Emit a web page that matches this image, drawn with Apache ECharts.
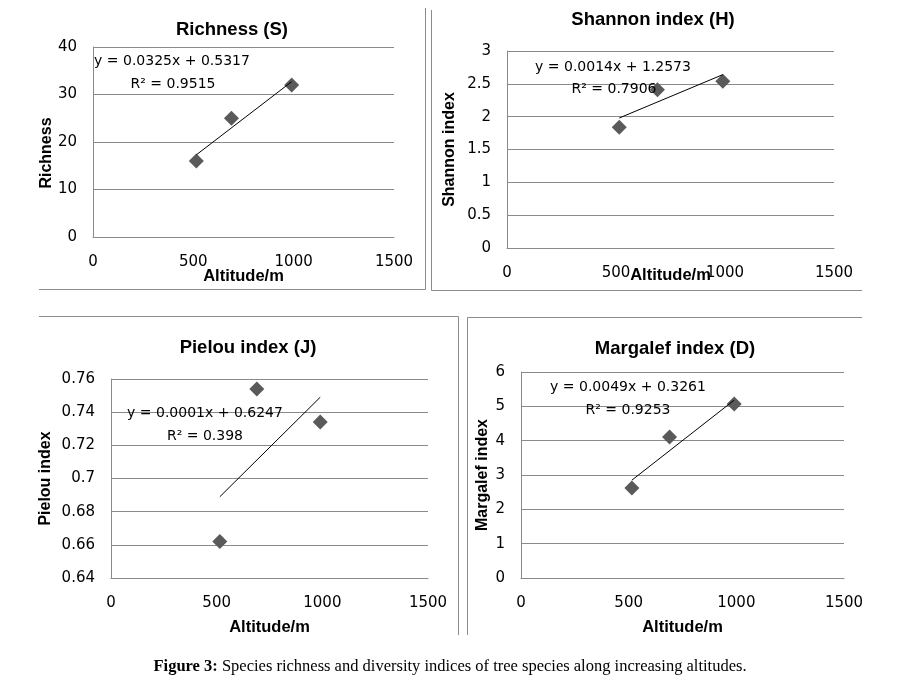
<!DOCTYPE html>
<html>
<head>
<meta charset="utf-8">
<script src="https://cdn.jsdelivr.net/npm/echarts@6/dist/echarts.min.js"></script>
<style>
html,body{margin:0;padding:0;background:#fff;}
#c{width:902px;height:687px;}
</style>
</head>
<body>
<div id="c"></div>
<script>
// ---- data ----
var altitudes = [515, 690, 990];
var richness = [16, 25, 32];
var shannon = [1.84, 2.41, 2.54];
var pielou = [0.662, 0.754, 0.734];
var margalef = [2.62, 4.11, 5.07];
// trend line endpoints at first/last altitude
var trendX = [515, 990];
var richnessTrend = [17.3, 32.7];
var shannonTrend = [1.98, 2.64];
var pielouTrend = [0.689, 0.749];
var margalefTrend = [2.85, 5.18];

var titles = ['Richness (S)', 'Shannon index (H)', 'Pielou index (J)', 'Margalef index (D)'];
var yNames = ['Richness', 'Shannon index', 'Pielou index', 'Margalef index'];
var equations = ['y = 0.0325x + 0.5317', 'y = 0.0014x + 1.2573', 'y = 0.0001x + 0.6247', 'y = 0.0049x + 0.3261'];
var r2 = ['R\u00b2 = 0.9515', 'R\u00b2 = 0.7906', 'R\u00b2 = 0.398', 'R\u00b2 = 0.9253'];
var yRanges = [[0, 40, 10], [0, 3, 0.5], [0.64, 0.76, 0.02], [0, 6, 1]];
var xRange = [0, 1500, 500];
var caption = 'Figure 3:';
var captionRest = ' Species richness and diversity indices of tree species along increasing altitudes.';

var values = [richness, shannon, pielou, margalef];
var trends = [richnessTrend, shannonTrend, pielouTrend, margalefTrend];

// ---- layout ----
var grids = [
  {left: 93, top: 47, width: 301, height: 190},
  {left: 507, top: 51, width: 327, height: 197},
  {left: 111, top: 379, width: 317, height: 199},
  {left: 521, top: 372, width: 323, height: 206}
];
var titlePos = [[227, 15], [648, 5], [243, 333], [670, 334]];
var xNameGap = [31, 19, 41, 41];
var yNameGap = [38, 49, 57, 30];
var yNamePad = [[0, 22, 0, 0], [0, 0, 0, 0], [0, 0, 0, 0], [0, 0, 0, 0]];
var eqPos = [[172, 61, 173, 84], [613, 67, 614, 89], [205, 413, 205, 436], [628, 387, 628, 410]];

var GRID = '#8a8a8a';
var tickFont = 'DejaVu Sans';
var boldFont = 'Liberation Sans';

var option = {
  backgroundColor: '#fff',
  animation: false,
  title: titles.map(function (t, i) {
    return {
      text: t, left: titlePos[i][0], top: titlePos[i][1], textAlign: 'center',
      textStyle: {fontFamily: boldFont, fontWeight: 'bold', fontSize: 18.5, color: '#000'}
    };
  }),
  grid: grids.map(function (g) { return Object.assign({containLabel: false}, g); }),
  xAxis: grids.map(function (g, i) {
    return {
      type: 'value', gridIndex: i, min: xRange[0], max: xRange[1], interval: xRange[2],
      name: 'Altitude/m', nameLocation: 'middle', nameGap: xNameGap[i], nameMoveOverlap: false,
      nameTextStyle: {fontFamily: boldFont, fontWeight: 'bold', fontSize: 16.5, color: '#000'},
      axisLine: {show: true, lineStyle: {color: GRID, width: 1}},
      axisTick: {show: false},
      splitLine: {show: false},
      axisLabel: {margin: 18, fontFamily: tickFont, fontSize: 15, color: '#000',
        formatter: function (v) { return String(v); }}
    };
  }),
  yAxis: grids.map(function (g, i) {
    return {
      type: 'value', gridIndex: i, min: yRanges[i][0], max: yRanges[i][1], interval: yRanges[i][2],
      name: yNames[i], nameLocation: 'middle', nameGap: yNameGap[i], nameMoveOverlap: false,
      nameTextStyle: {fontFamily: boldFont, fontWeight: 'bold', fontSize: 16, color: '#000', padding: yNamePad[i]},
      axisLine: {show: true, lineStyle: {color: GRID, width: 1}},
      axisTick: {show: false},
      splitLine: {show: true, lineStyle: {color: GRID, width: 1}},
      axisLabel: {margin: 16, fontFamily: tickFont, fontSize: 15, color: '#000',
        formatter: function (v) { return String(+v.toFixed(4)); }}
    };
  }),
  series: [],
  graphic: []
};

values.forEach(function (vals, i) {
  option.series.push({
    type: 'scatter', xAxisIndex: i, yAxisIndex: i, symbol: 'diamond', symbolSize: 15,
    itemStyle: {color: '#5a5a5a', opacity: 1}, z: 2,
    data: altitudes.map(function (a, k) { return [a, vals[k]]; })
  });
  option.series.push({
    type: 'line', xAxisIndex: i, yAxisIndex: i, symbol: 'none', z: 3,
    lineStyle: {color: '#000', width: 1},
    data: trendX.map(function (a, k) { return [a, trends[i][k]]; })
  });
  option.graphic.push({
    type: 'text', x: eqPos[i][0], y: eqPos[i][1], z: 10,
    style: {text: equations[i], fill: '#000', font: '14px "DejaVu Sans"', textAlign: 'center', textVerticalAlign: 'middle'}
  });
  option.graphic.push({
    type: 'text', x: eqPos[i][2], y: eqPos[i][3], z: 10,
    style: {text: r2[i], fill: '#000', font: '14px "DejaVu Sans"', textAlign: 'center', textVerticalAlign: 'middle'}
  });
});

// panel frames (partially visible in the reference)
var B = '#8c8c8c';
function seg(x1, y1, x2, y2) {
  return {type: 'line', shape: {x1: x1, y1: y1, x2: x2, y2: y2}, style: {stroke: B, lineWidth: 1}, z: 1};
}
option.graphic.push(seg(425.5, 8, 425.5, 289.5));
option.graphic.push(seg(39, 289.5, 425.5, 289.5));
option.graphic.push(seg(431.5, 10, 431.5, 290.5));
option.graphic.push(seg(431.5, 290.5, 862, 290.5));
option.graphic.push(seg(39, 316.5, 458.5, 316.5));
option.graphic.push(seg(458.5, 316.5, 458.5, 635));
option.graphic.push(seg(467.5, 317.5, 467.5, 635));
option.graphic.push(seg(467.5, 317.5, 862, 317.5));

// caption
option.graphic.push({
  type: 'text', x: 450, y: 667, z: 10,
  style: {
    text: '{b|' + caption + '}{n|' + captionRest + '}',
    textAlign: 'center', textVerticalAlign: 'middle',
    rich: {
      b: {fontFamily: 'Liberation Serif', fontWeight: 'bold', fontSize: 16.5, fill: '#000'},
      n: {fontFamily: 'Liberation Serif', fontSize: 16.5, fill: '#000'}
    }
  }
});

var chart = echarts.init(document.getElementById('c'), null, {renderer: 'canvas'});
chart.setOption(option);
</script>
</body>
</html>
